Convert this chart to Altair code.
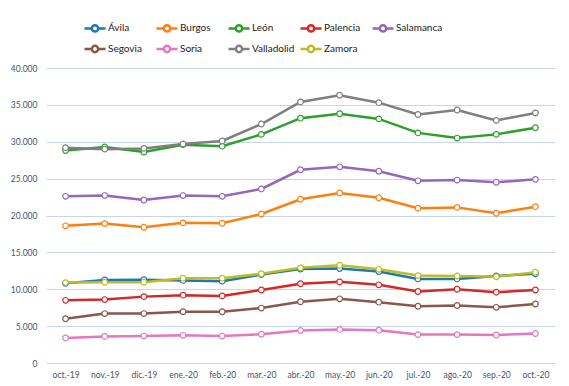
import altair as alt
import pandas as pd

months = ["oct.-19", "nov.-19", "dic.-19", "ene.-20", "feb.-20", "mar.-20", "abr.-20",
          "may.-20", "jun.-20", "jul.-20", "ago.-20", "sep.-20", "oct.-20"]
provinces = ["Ávila", "Burgos", "León", "Palencia", "Salamanca", "Segovia", "Soria",
             "Valladolid", "Zamora"]
colors = ["#1f77b4", "#ff7f0e", "#2ca02c", "#d62728", "#9467bd", "#8c564b", "#e377c2",
          "#7f7f7f", "#bcbd22"]

avila = [10800, 11250, 11300, 11200, 11100, 12000, 12750, 12800, 12400, 11400, 11400, 11800, 12100]
burgos = [18600, 18900, 18400, 19000, 18950, 20200, 22200, 23050, 22400, 21000, 21100, 20300, 21200]
leon = [28800, 29300, 28600, 29600, 29400, 31000, 33200, 33800, 33100, 31200, 30500, 31000, 31900]
palencia = [8500, 8600, 9000, 9200, 9100, 9900, 10750, 11000, 10600, 9700, 10000, 9600, 9900]
salamanca = [22600, 22700, 22100, 22700, 22600, 23600, 26200, 26600, 26000, 24700, 24800, 24500, 24900]
segovia = [6000, 6700, 6700, 6950, 6950, 7450, 8300, 8700, 8250, 7700, 7800, 7550, 8000]
soria = [3400, 3600, 3650, 3750, 3650, 3900, 4400, 4550, 4450, 3850, 3850, 3800, 4000]
valladolid = [29200, 29000, 29100, 29700, 30100, 32400, 35400, 36300, 35300, 33700, 34300, 32900, 33900]
zamora = [10900, 10950, 10950, 11500, 11500, 12100, 12900, 13250, 12700, 11850, 11800, 11700, 12300]

series = [avila, burgos, leon, palencia, salamanca, segovia, soria, valladolid, zamora]

rows = []
for p, vals in zip(provinces, series):
    for m, v in zip(months, vals):
        rows.append({"mes": m, "provincia": p, "valor": v})
df = pd.DataFrame(rows)

FONT = "Lato"
AXIS_COLOR = "#44546a"

sym = "M-1,0L-0.3,0M0.3,0L1,0M0.3,0A0.3,0.3,0,1,1,-0.3,0A0.3,0.3,0,1,1,0.3,0Z"

color = alt.Color(
    "provincia:N",
    scale=alt.Scale(domain=provinces, range=colors),
    sort=provinces,
    legend=alt.Legend(
        title=None, orient="none", direction="horizontal", legendX=37, legendY=-52,
        columns=5, gridAlign="all", columnPadding=-5, rowPadding=0,
        symbolType=sym, symbolSize=441, symbolStrokeWidth=2.5,
        symbolFillColor="white", labelOffset=1,
        labelFont=FONT, labelFontSize=10, labelColor="#222222", labelLimit=80,
    ),
)

x = alt.X("mes:O", sort=months, scale=alt.Scale(type="point", padding=0.5),
          axis=alt.Axis(title=None, labelAngle=0, tickSize=0, domain=False,
                        labelPadding=7, labelFont=FONT, labelFontSize=8.5,
                        labelColor=AXIS_COLOR, grid=False))
y = alt.Y("valor:Q", scale=alt.Scale(domain=[0, 40000]),
          axis=alt.Axis(title=None, values=list(range(0, 40001, 5000)), tickSize=0,
                        domain=False, labelPadding=9, labelFont=FONT, labelFontSize=8.5,
                        labelColor=AXIS_COLOR, gridColor="#c6d5ee", gridWidth=1,
                        labelExpr="replace(format(datum.value, ','), ',', '.')"))

base = alt.Chart(df)
lines = base.mark_line(strokeWidth=2.5).encode(x=x, y=y, color=color, detail="provincia:N")
points = base.mark_point(filled=True, fill="white", size=32, strokeWidth=1.2, opacity=1).encode(
    x=x, y=y, stroke=alt.Stroke("provincia:N", scale=alt.Scale(domain=provinces, range=colors), legend=None)
)

chart = (lines + points).properties(
    width=509, height=295,
    padding={"left": 2, "top": 8, "right": 5, "bottom": 5},
).configure_view(stroke=None)

chart.save("out.html", embed_options={"renderer": "svg", "actions": False})
